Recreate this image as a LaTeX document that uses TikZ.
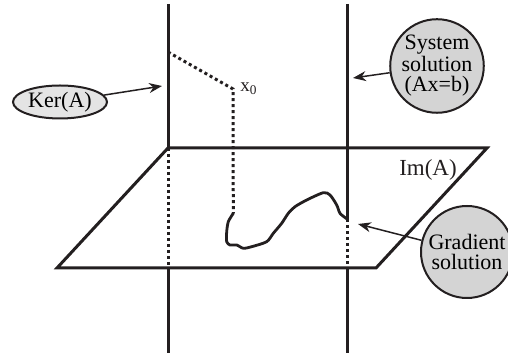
\documentclass[tikz,border=0pt]{standalone}
\usepackage{fontspec}
\setmainfont{Liberation Serif}
\usetikzlibrary{arrows.meta,shapes.geometric}
\definecolor{Ink}{HTML}{231F20}
\definecolor{KerFill}{HTML}{E4E4E4}
\definecolor{SolFill}{HTML}{D4D4D4}
\tikzset{
  >={Stealth[length=6.5pt,width=5pt]},
  axis/.style={draw=Ink,line width=1.5pt},
  hidden/.style={draw=Ink,line width=1.5pt,dash pattern=on 1.5pt off 1.5pt},
  edge/.style={draw=Ink,line width=1.5pt,line join=miter},
  traj/.style={draw=Ink,line width=1.4pt,line join=round,line cap=round},
  tag/.style={ellipse,draw=Ink,line width=1pt,fill=KerFill,minimum width=47pt,minimum height=16.5pt,inner sep=0pt,font=\fontsize{11}{12}\selectfont},
  sol/.style={circle,draw=Ink,line width=1pt,fill=SolFill,minimum size=46pt,inner sep=0pt,align=center,font=\fontsize{11}{10}\selectfont},
  pointer/.style={->,draw=Ink,line width=.75pt},
  lab/.style={font=\fontsize{11.5}{12}\selectfont,inner sep=0pt,text=Ink}
}
\begin{document}
\begin{tikzpicture}[x=.5pt,y=-.5pt]
    \useasboundingbox (0,0) rectangle (508,356);
    \coordinate (pa) at (57,268);
    \coordinate (pb) at (376,268);
    \coordinate (pc) at (487,148);
    \coordinate (pd) at (168,148);
    \coordinate (ktop) at (168,4);
    \coordinate (kbot) at (168,353);
    \coordinate (kout) at (168,268);
    \coordinate (stop) at (347,4);
    \coordinate (sin) at (347,219);
    \coordinate (sout) at (347,268);
    \coordinate (sbot) at (347,353);
    \coordinate (k0) at (168,52);
    \coordinate (x0) at (233,89);
    \coordinate (g0) at (233.3,213.3);
    \draw[edge] (pa)--(pb)--(pc)--(pd)--cycle;
    \draw[axis] (ktop)--(pd);
    \draw[hidden] (pd)--(kout);
    \draw[axis] (kout)--(kbot);
    \draw[axis] (stop)--(sin);
    \draw[hidden] (sin)--(sout);
    \draw[axis] (sout)--(sbot);
    \draw[hidden] (k0)--(x0)--(g0);
    \draw[traj] plot[smooth,tension=.45] coordinates {(g0) (228.3,221.7) (226.7,231.7) (226.7,241.7) (230,245) (236.7,245) (243.3,248.3) (251.7,246.7) (266.7,241.7) (273.3,233.3) (281.7,223.3) (288.3,213.3) (295,206.7) (306.7,200) (323.3,192.7) (330,195) (336.7,205) (340,213.3) (sin)};
    \node[lab,anchor=west,font=\fontsize{9.5}{10}\selectfont] (xlab) at (240,89) {x\textsubscript{0}};
    \node[lab] (im) at (428,170) {Im(A)};
    \node[tag] (ker) at (60,102) {Ker(A)};
    \node[sol] (sys) at (437,66) {System\\solution\\(Ax=b)};
    \node[sol] (grad) at (467,252) {Gradient\\solution};
    \coordinate (kerend) at (162,86);
    \coordinate (sysend) at (353,78);
    \coordinate (gradend) at (358,224);
    \draw[pointer] (ker)--(kerend);
    \draw[pointer] (sys)--(sysend);
    \draw[pointer] (grad)--(gradend);
  \end{tikzpicture}
\end{document}
